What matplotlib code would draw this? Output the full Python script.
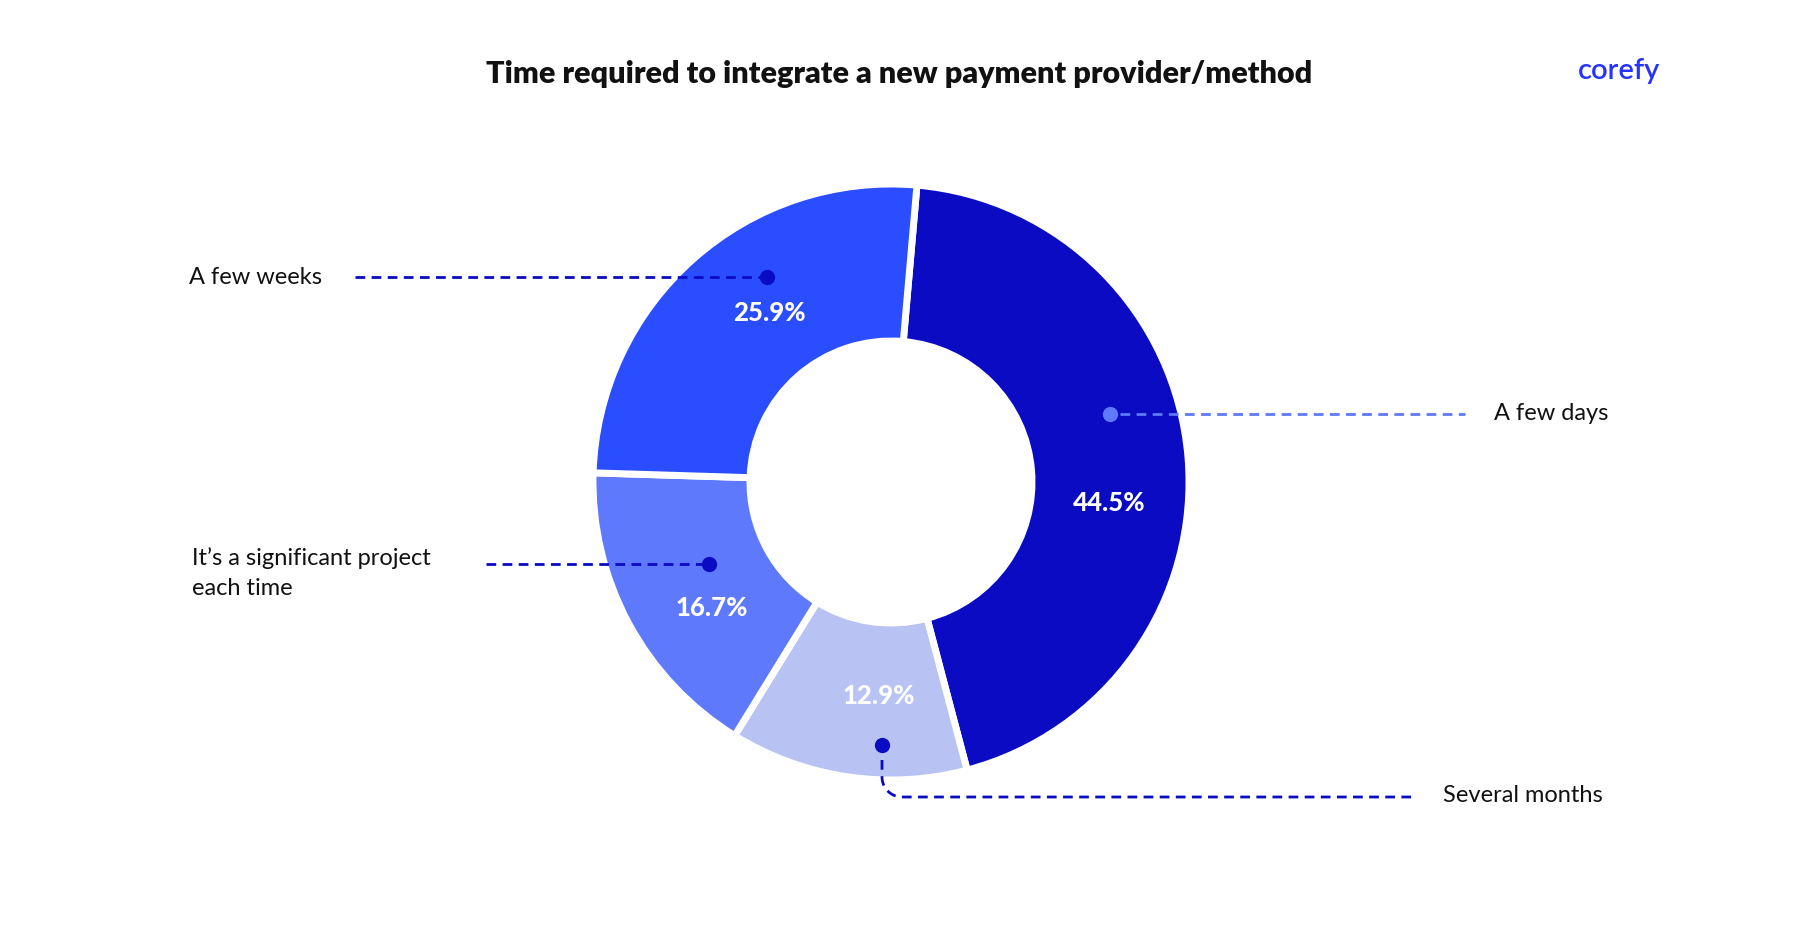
import matplotlib
matplotlib.use('Agg')
import matplotlib.pyplot as plt
import numpy as np

plt.rcParams['font.family'] = ['Lato', 'DejaVu Sans']

# === DATA ===
TITLE = "Time required to integrate a new payment provider/method"
CATEGORIES = ["A few days", "Several months", "It\u2019s a significant project\neach time", "A few weeks"]
SHARES = [44.5, 12.9, 16.7, 25.9]
COLORS = ["#0A0BC2", "#B8C3F4", "#5E79FB", "#2A4DFF"]

W, H = 1800, 942
fig = plt.figure(figsize=(W / 100, H / 100), dpi=100)
ax = fig.add_axes([0, 0, 1, 1])


def px(x, y):
    # picture pixel coords (y down) -> data coords (y up)
    return x, H - y


CX, CY = px(891, 482)
R_OUT, R_IN = 298, 141
GAP_LW = 5

wedges, _ = ax.pie(SHARES, colors=COLORS, startangle=85, counterclock=False,
                   radius=R_OUT, center=(CX, CY),
                   wedgeprops=dict(width=R_OUT - R_IN, edgecolor='white',
                                   linewidth=GAP_LW, joinstyle='round'))

# percentage labels (positions in picture pixels, same order as SHARES)
PCT_POS = [(1109, 503), (879, 696), (712, 608), (769, 313)]
for (x, y), v in zip(PCT_POS, SHARES):
    ax.text(*px(x, y), f"{v}%", ha='center', va='center', color='white',
            fontsize=18.5, fontweight='black')

DARK = "#0A0BC2"
LIGHT = "#5E79FB"
dash = (0, (3.5, 2.3))


def leader(x0, x1, y, color):
    ax.plot([x0, x1], [H - y, H - y], color=color, lw=2, linestyle=dash,
            dash_capstyle='butt', zorder=3)


def dot(x, y, color):
    ax.plot([x], [H - y], 'o', ms=11, color=color, mec='none', zorder=4)


label_kw = dict(fontsize=17, color='#111111', va='center')

# A few weeks
leader(355, 760, 277, DARK)
dot(767, 277, DARK)
ax.text(*px(189, 278), CATEGORIES[3], ha='left', **label_kw)

# A few days
leader(1120, 1465, 414, LIGHT)
dot(1110, 414, LIGHT)
ax.text(*px(1494, 414), CATEGORIES[0], ha='left', **label_kw)

# It's a significant project
leader(486, 702, 564, DARK)
dot(709, 564, DARK)
ax.text(*px(192, 573), CATEGORIES[2], ha='left', linespacing=1.5, **label_kw)

# Several months (elbow leader)
dot(882, 745, DARK)
rr = 20
t = np.linspace(np.pi, 1.5 * np.pi, 20)
xs = np.concatenate([[882, 882], 882 + rr + rr * np.cos(t), [1412]])
ys = np.concatenate([[760, 797 - rr], 797 - rr - rr * np.sin(t), [797]])
ax.plot(xs, H - ys, color=DARK, lw=2, linestyle=dash, dash_capstyle='butt',
        zorder=3)
ax.text(*px(1443, 795), CATEGORIES[1], ha='left', **label_kw)

# title and brand
ax.text(*px(899, 74), TITLE, ha='center', va='center', fontsize=22,
        fontweight='heavy', color='#111111')
ax.text(*px(1619, 71), "corefy", ha='center', va='center', fontsize=21,
        fontweight='semibold', color='#2433FF')

ax.set_xlim(0, W)
ax.set_ylim(0, H)
ax.set_aspect('equal')
ax.axis('off')

fig.savefig("out.png", dpi=100, facecolor='white')
